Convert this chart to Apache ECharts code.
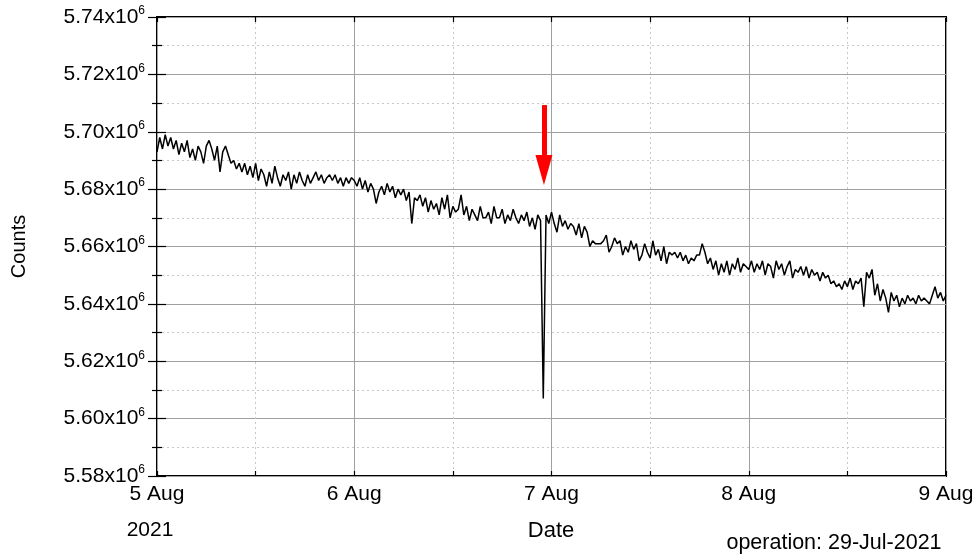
<!DOCTYPE html>
<html>
<head>
<meta charset="utf-8">
<script src="https://cdn.jsdelivr.net/npm/echarts@6/dist/echarts.min.js"></script>
<style>
html, body { margin: 0; padding: 0; background: #fff; }
#main { width: 976px; height: 557px; }
</style>
</head>
<body>
<div id="main"></div>
<script>
// counts in thousands, one value every 20 minutes
var day5 = [5693, 5698, 5694, 5699, 5695, 5698, 5694, 5697, 5692, 5696, 5693, 5697, 5691,
    5694, 5690, 5695, 5693, 5689, 5695, 5697, 5694, 5690, 5695, 5686, 5693,
    5695, 5692, 5689, 5690, 5687, 5689, 5686, 5689, 5685, 5688, 5684, 5689, 5683, 5687, 5685, 5681,
    5686, 5682, 5688, 5684, 5681, 5685, 5683, 5686, 5680, 5685,
    5682, 5686, 5683, 5681, 5685, 5682, 5684, 5686, 5683, 5685,
    5682, 5684, 5685, 5683, 5685, 5682, 5684, 5681, 5684, 5682, 5684]
var day6 = [5683, 5681, 5684, 5680, 5683, 5679, 5682, 5680, 5675,
    5679, 5681, 5678, 5682, 5679, 5681, 5677, 5680,
    5678, 5680, 5676, 5679, 5668, 5677, 5676, 5678,
    5674, 5677, 5672, 5676, 5673, 5675, 5671, 5677, 5673,
    5678, 5670, 5674, 5672, 5673, 5678, 5671, 5674, 5669,
    5673, 5671, 5669, 5674, 5670, 5670, 5672, 5668, 5674, 5670,
    5670, 5673, 5668, 5671, 5669, 5673, 5670, 5668, 5671,
    5669, 5672, 5667, 5670, 5666, 5671, 5669, 5607, 5671, 5668]
var day7 = [5672, 5668, 5665, 5671, 5667, 5669, 5666, 5668, 5667,
    5664, 5668, 5663, 5667, 5665, 5660, 5662, 5661,
    5661, 5661, 5662, 5664, 5658, 5660, 5663, 5661,
    5662, 5657, 5660, 5658, 5662, 5659, 5661, 5655, 5657,
    5661, 5658, 5656, 5662, 5657, 5659, 5655, 5660, 5654,
    5658, 5657, 5658, 5656, 5658, 5655, 5657, 5654, 5656, 5655,
    5657, 5657, 5661, 5658, 5654, 5656,
    5652, 5655, 5650, 5654, 5651, 5655, 5650, 5654, 5652, 5656, 5651, 5654, 5653]
var day8 = [5652, 5655, 5651, 5654, 5652, 5655, 5650, 5654, 5653, 5649, 5655,
    5652, 5654, 5650, 5653, 5655, 5649, 5652, 5651, 5653,
    5650, 5653, 5649, 5652, 5650, 5651, 5648, 5651, 5649, 5650, 5647,
    5648, 5646, 5647, 5645, 5648, 5646, 5649, 5645, 5648, 5647,
    5649, 5639, 5651, 5649, 5652,
    5643, 5647, 5641, 5645, 5642, 5637, 5644, 5641, 5643, 5639,
    5642, 5640, 5643, 5641, 5642, 5640, 5643, 5641,
    5642, 5641, 5640, 5643, 5646, 5642, 5644, 5641,
    5643]

var xTickLabels = ['5 Aug', '6 Aug', '7 Aug', '8 Aug', '9 Aug']
var stepHours = 1 / 3
var arrowHour = 47.08           // 6 Aug ~23:05
var arrowFrom = 5.7093e6
var arrowTo = 5.6867e6

var counts = day5.concat(day6, day7, day8)
var seriesData = counts.map(function (v, i) {
    return [i * stepHours, v * 1000]
})

var myChart = echarts.init(document.getElementById('main'))
var font = 'Liberation Sans, Arial, sans-serif'

function ticks(len) {
    return { inside: true, length: len, lineStyle: { color: '#000', width: 1.2 } }
}
function minors() {
    return { show: true, inside: true, splitNumber: 2, length: 5, lineStyle: { color: '#000', width: 1.2 } }
}

var options = {
    animation: false,
    backgroundColor: '#fff',
    grid: {
        left: 157, right: 30, top: 17, bottom: 81,
        outerBoundsMode: 'none',
        containLabel: false,
        show: true, borderColor: '#000', borderWidth: 2, backgroundColor: 'transparent'
    },
    xAxis: [{
        type: 'value', min: 0, max: 96, interval: 24,
        axisLine: { show: false },
        axisTick: ticks(5),
        minorTick: minors(),
        splitLine: { lineStyle: { color: '#a0a0a0', width: 1 } },
        minorSplitLine: { show: true, lineStyle: { color: '#c8c8c8', type: [2, 3] } },
        axisLabel: {
            margin: 8, fontSize: 21, fontFamily: font, color: '#000',
            formatter: function (v) { return xTickLabels[Math.round(v / 24)] }
        }
    }, {
        type: 'value', min: 0, max: 96, interval: 24, position: 'top',
        axisLine: { show: false },
        axisTick: ticks(5),
        minorTick: minors(),
        splitLine: { show: false }, axisLabel: { show: false }
    }],
    yAxis: [{
        type: 'value', min: 5.58e6, max: 5.74e6, interval: 0.02e6,
        name: 'Counts', nameLocation: 'middle', nameGap: 128, nameRotate: 90,
        nameTextStyle: { fontSize: 20, fontFamily: font, color: '#000' },
        axisLine: { show: false },
        axisTick: ticks(9),
        minorTick: minors(),
        splitLine: { lineStyle: { color: '#a0a0a0', width: 1 } },
        minorSplitLine: { show: true, lineStyle: { color: '#c8c8c8', type: [2, 3] } },
        axisLabel: {
            margin: 12, color: '#000',
            formatter: function (v) { return '{a|' + (v / 1e6).toFixed(2) + 'x10}{b|6}' },
            rich: {
                a: { fontSize: 21, fontFamily: font, color: '#000' },
                b: { fontSize: 12, fontFamily: font, color: '#000', padding: [0, 0, 12, 0] }
            }
        }
    }, {
        type: 'value', min: 5.58e6, max: 5.74e6, interval: 0.02e6, position: 'right',
        axisLine: { show: false },
        axisTick: ticks(9),
        minorTick: minors(),
        splitLine: { show: false }, axisLabel: { show: false }
    }],
    graphic: [
        { type: 'text', x: 150, y: 530, style: { text: '2021', fontSize: 21, fontFamily: font, fill: '#000', align: 'center', verticalAlign: 'middle' } },
        { type: 'text', x: 551, y: 531, style: { text: 'Date', fontSize: 22, fontFamily: font, fill: '#000', align: 'center', verticalAlign: 'middle' } },
        { type: 'text', x: 834, y: 543, style: { text: 'operation: 29-Jul-2021', fontSize: 21.5, fontFamily: font, fill: '#000', align: 'center', verticalAlign: 'middle' } }
    ],
    series: [{
        type: 'line',
        data: seriesData,
        showSymbol: false,
        lineStyle: { color: '#000', width: 1.5 },
        z: 3,
        markLine: {
            silent: true,
            symbol: ['none', 'triangle'],
            symbolSize: [17, 30],
            label: { show: false },
            lineStyle: { color: '#ff0000', width: 5, type: 'solid' },
            data: [[{ coord: [arrowHour, arrowFrom] }, { coord: [arrowHour, arrowTo] }]]
        }
    }]
}

myChart.setOption(options)
</script>
</body>
</html>
